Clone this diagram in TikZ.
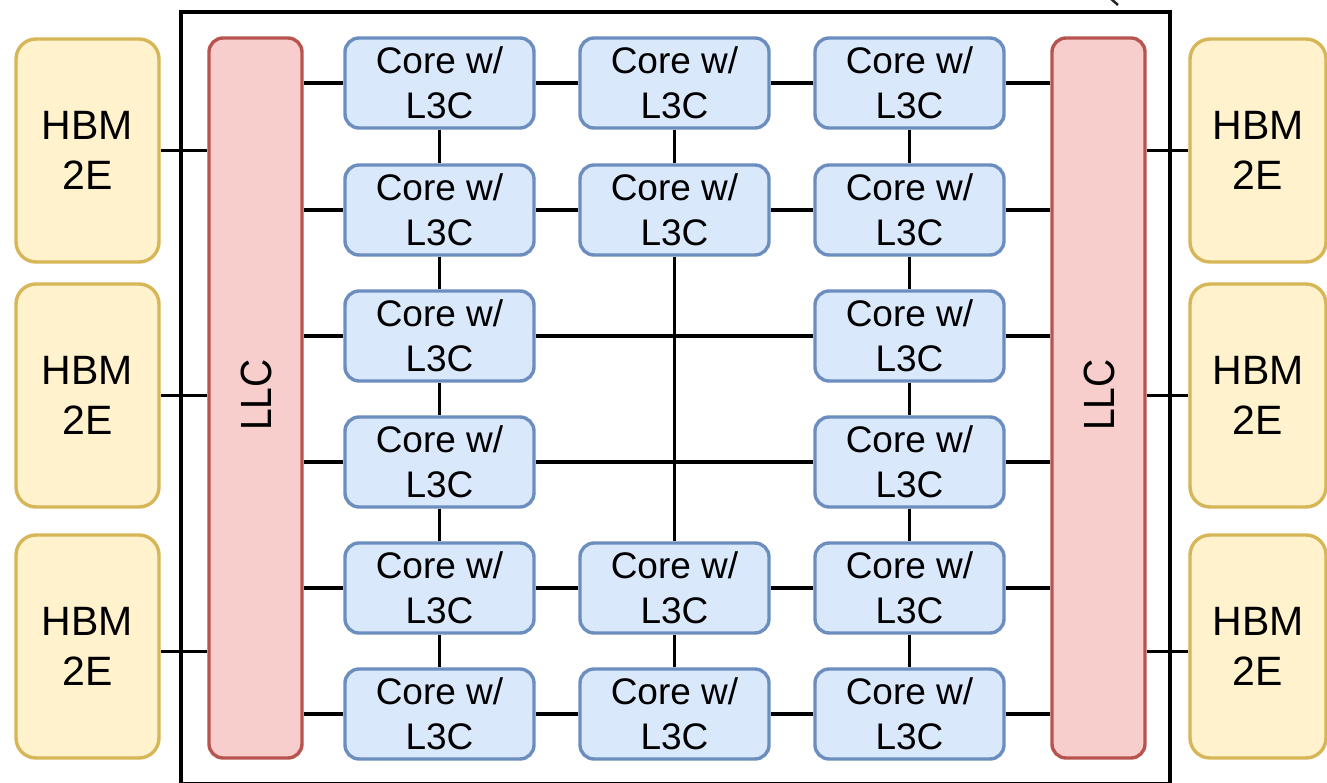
\documentclass[tikz,border=0pt]{standalone}
\usepackage{fontspec}
\setmainfont{Liberation Sans}
\usepackage{graphicx}
\definecolor{hbmfill}{HTML}{FFF2CC}
\definecolor{hbmline}{HTML}{D6B656}
\definecolor{llcfill}{HTML}{F8CECC}
\definecolor{llcline}{HTML}{B85450}
\definecolor{corefill}{HTML}{DAE8FC}
\definecolor{coreline}{HTML}{6C8EBF}
\tikzset{
  corebox/.style={draw=coreline, fill=corefill, line width=3.4pt, rounded corners=14pt,
    minimum width=189pt, minimum height=90pt, inner sep=0pt, align=center,
    font=\fontsize{37}{45}\selectfont},
  hbmbox/.style={draw=hbmline, fill=hbmfill, line width=3.4pt, rounded corners=20pt,
    minimum width=143pt, minimum height=223pt, inner sep=0pt, align=center,
    font=\fontsize{41}{50}\selectfont},
  llcbox/.style={draw=llcline, fill=llcfill, line width=3.4pt, rounded corners=14pt,
    minimum width=93pt, minimum height=720pt, inner sep=0pt},
  llclabel/.style={rotate=90, inner sep=0pt, font=\fontsize{39}{45}\selectfont},
  chipframe/.style={draw=black, line width=3.6pt, inner sep=0pt},
  wire/.style={draw=black, line width=3.9pt},
}
\begin{document}
\begin{tikzpicture}[x=1pt,y=-1pt]
\useasboundingbox (0,0) rectangle (1327,783);

% die outline
\node[chipframe, minimum width=989pt, minimum height=771.5pt] (chip) at (675.5,397.75) {};
\draw[line width=2.5pt, black!85] (1110,-2) -- (1118,5);

% HBM stacks
\node[hbmbox] (hbmL1) at (87.5,150.5) {HBM\\2E};
\node[hbmbox] (hbmL2) at (87.5,395.5) {HBM\\2E};
\node[hbmbox] (hbmL3) at (87.5,646.5) {HBM\\2E};
\node[hbmbox, minimum width=136pt] (hbmR1) at (1258,150.5) {HBM\\2E};
\node[hbmbox, minimum width=136pt] (hbmR2) at (1258,395.5) {HBM\\2E};
\node[hbmbox, minimum width=136pt] (hbmR3) at (1258,646.5) {HBM\\2E};

% last-level caches
\node[llcbox] (llcL) at (255.5,398) {};
\node[llclabel] (llcLtext) at (256,395) {\scalebox{1}[1.12]{LLC}};
\node[llcbox] (llcR) at (1098.5,398) {};
\node[llclabel] (llcRtext) at (1099,395) {\scalebox{1}[1.12]{LLC}};

% core tiles: rows 1..6, columns 1..3 (column 2 empty in rows 3 and 4)
\foreach \r/\y in {1/83,2/210,3/336,4/462,5/588,6/714}{
  \node[corebox] (c\r1) at (439.5,\y) {Core w/\\L3C};
  \node[corebox] (c\r3) at (909.5,\y) {Core w/\\L3C};
}
\foreach \r/\y in {1/83,2/210,5/588,6/714}{
  \node[corebox] (c\r2) at (674.5,\y) {Core w/\\L3C};
}

% HBM links
\draw[wire] (hbmL1.east) -- (hbmL1.east -| llcL.west);
\draw[wire] (hbmL2.east) -- (hbmL2.east -| llcL.west);
\draw[wire] ([yshift=-5pt]hbmL3.east) -- ([yshift=-5pt]hbmL3.east -| llcL.west);
\draw[wire] (hbmR1.west) -- (hbmR1.west -| llcR.east);
\draw[wire] (hbmR2.west) -- (hbmR2.west -| llcR.east);
\draw[wire] ([yshift=-5pt]hbmR3.west) -- ([yshift=-5pt]hbmR3.west -| llcR.east);

% mesh rows
\foreach \r in {1,...,6}{
  \draw[wire] (llcL.east |- c\r1) -- (c\r1);
  \draw[wire] (c\r3) -- (llcR.west |- c\r3);
}
\foreach \r in {1,2,5,6}{
  \draw[wire] (c\r1) -- (c\r2);
  \draw[wire] (c\r2) -- (c\r3);
}
\draw[wire] (c31) -- (c33);
\draw[wire] (c41) -- (c43);

% mesh columns
\foreach \a/\b in {1/2,2/3,3/4,4/5,5/6}{
  \draw[wire] (c\a1) -- (c\b1);
  \draw[wire] (c\a3) -- (c\b3);
}
\draw[wire] (c12) -- (c22);
\draw[wire] (c22) -- (c52);
\draw[wire] (c52) -- (c62);
\end{tikzpicture}
\end{document}
